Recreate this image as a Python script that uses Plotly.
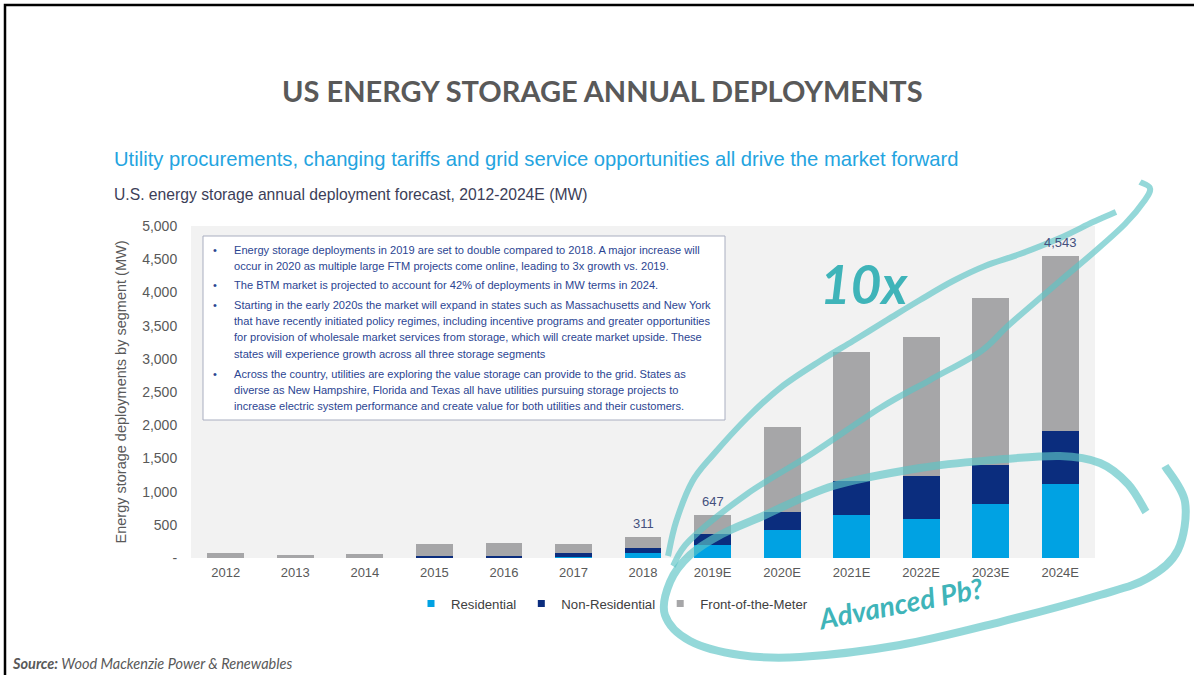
import plotly.graph_objects as go

# ---------------- data ----------------
categories = ["2012", "2013", "2014", "2015", "2016", "2017", "2018",
              "2019E", "2020E", "2021E", "2022E", "2023E", "2024E"]
residential = [3, 2, 3, 5, 5, 10, 75, 200, 420, 650, 590, 815, 1115]
non_residential = [2, 3, 4, 25, 30, 60, 80, 160, 275, 515, 645, 585, 800]
front_of_meter = [65, 35, 48, 185, 190, 140, 156, 287, 1275, 1935, 2100, 2520, 2628]
total_labels = ["", "", "", "", "", "", "311", "647", "", "", "", "", "4,543"]
y_tickvals = [0, 500, 1000, 1500, 2000, 2500, 3000, 3500, 4000, 4500, 5000]
y_ticktext = ["-", "500", "1,000", "1,500", "2,000", "2,500", "3,000",
              "3,500", "4,000", "4,500", "5,000"]
series_names = ["Residential", "Non-Residential", "Front-of-the-Meter"]
series_colors = ["#00A2E3", "#0B2D7E", "#A6A6A8"]

bullets = [
    ["Energy storage deployments in 2019 are set to double compared to 2018. A major increase will",
     "occur in 2020 as multiple large FTM projects come online, leading to 3x growth vs. 2019."],
    ["The BTM market is projected to account for 42% of deployments in MW terms in 2024."],
    ["Starting in the early 2020s the market will expand in states such as Massachusetts and New York",
     "that have recently initiated policy regimes, including incentive programs and greater opportunities",
     "for provision of wholesale market services from storage, which will create market upside. These",
     "states will experience growth across all three storage segments"],
    ["Across the country, utilities are exploring the value storage can provide to the grid. States as",
     "diverse as New Hampshire, Florida and Texas all have utilities pursuing storage projects to",
     "increase electric system performance and create value for both utilities and their customers."],
]

# ---------------- layout helpers (pixel -> paper) ----------------
W, H = 1194, 675
PL, PR, PT, PB = 191, 1095, 226, 558


def px(x):
    return (x - PL) / (PR - PL)


def py(y):
    return (PB - y) / (PB - PT)


def smooth_path(pts):
    p = [(px(x), py(y)) for x, y in pts]
    d = f"M {p[0][0]:.4f},{p[0][1]:.4f}"
    for i in range(len(p) - 1):
        p0 = p[i - 1] if i > 0 else p[i]
        p1, p2 = p[i], p[i + 1]
        p3 = p[i + 2] if i + 2 < len(p) else p2
        c1 = (p1[0] + (p2[0] - p0[0]) / 6, p1[1] + (p2[1] - p0[1]) / 6)
        c2 = (p2[0] - (p3[0] - p1[0]) / 6, p2[1] - (p3[1] - p1[1]) / 6)
        d += f" C {c1[0]:.4f},{c1[1]:.4f} {c2[0]:.4f},{c2[1]:.4f} {p2[0]:.4f},{p2[1]:.4f}"
    return d


FONT = "Liberation Sans, Arial, sans-serif"
HAND = "Lato, Open Sans, sans-serif"
TEAL = "rgba(92,196,198,0.66)"
TEAL_TXT = "#3FB4B9"

fig = go.Figure()
for name, vals, col in zip(series_names, [residential, non_residential, front_of_meter], series_colors):
    fig.add_trace(go.Bar(name=name, x=categories, y=vals, legendgroup=name, showlegend=False,
                         marker=dict(color=col, line=dict(width=0))))
    # legend entry with a small square swatch, as in the original
    fig.add_trace(go.Scatter(name=name, x=[categories[0]], y=[None], mode="markers",
                             legendgroup=name,
                             marker=dict(symbol="square", size=7, color=col), hoverinfo="skip"))

totals = [a + b + c for a, b, c in zip(residential, non_residential, front_of_meter)]

shapes = []
# slide border
shapes.append(dict(type="rect", xref="paper", yref="paper",
                   x0=px(5), x1=px(1210), y0=py(5), y1=py(700),
                   line=dict(color="black", width=2.5), fillcolor="rgba(0,0,0,0)", layer="above"))
# commentary box
shapes.append(dict(type="rect", xref="paper", yref="paper",
                   x0=px(203), x1=px(725), y0=py(236), y1=py(420),
                   line=dict(color="#A9AEC0", width=1), fillcolor="white", layer="above"))

# hand-drawn teal strokes (decoration, slide pixel coordinates)
lower_loop = [(1165, 466), (1185, 502), (1178, 550), (1148, 578), (1100, 595), (1000, 622),
              (900, 645), (800, 657), (740, 655), (690, 641), (665, 615), (670, 582),
              (690, 555), (722, 534), (763, 516), (833, 486), (920, 468), (993, 460),
              (1060, 456), (1100, 463), (1128, 484), (1146, 512)]
upper_a = [(668, 556), (676, 522), (692, 482), (713, 455), (747, 418), (780, 388),
           (820, 361), (853, 341), (887, 320), (920, 300), (953, 281), (985, 266),
           (1020, 254), (1060, 238), (1093, 222), (1116, 212)]
upper_b = [(673, 566), (690, 540), (747, 494), (813, 453), (880, 408), (930, 380),
           (980, 352), (1010, 324), (1060, 281), (1093, 253), (1125, 224), (1145, 200),
           (1150, 188), (1140, 182)]
for pts, w in [(lower_loop, 8), (upper_a, 6), (upper_b, 6)]:
    shapes.append(dict(type="path", xref="paper", yref="paper", path=smooth_path(pts),
                       line=dict(color=TEAL, width=w), layer="above"))

annotations = []
# total labels above selected bars (category index positions from the data)
for i, (tot, lab) in enumerate(zip(totals, total_labels)):
    if lab:
        annotations.append(dict(x=i, y=tot, xref="x", yref="y", text=lab, showarrow=False,
                                xanchor="center", yanchor="bottom", yshift=4,
                                font=dict(family=FONT, size=13, color="#44507E")))

annotations.append(dict(xref="paper", yref="paper", x=px(602), y=py(90),
                        text="<b>US ENERGY STORAGE ANNUAL DEPLOYMENTS</b>", showarrow=False,
                        xanchor="center", yanchor="middle",
                        font=dict(family=HAND, size=29, color="#595959")))
annotations.append(dict(xref="paper", yref="paper", x=px(112), y=py(159),
                        text="Utility procurements, changing tariffs and grid service opportunities all drive the market forward",
                        showarrow=False, xanchor="left", yanchor="middle",
                        font=dict(family=FONT, size=20.2, color="#24A4DF")))
annotations.append(dict(xref="paper", yref="paper", x=px(112), y=py(195),
                        text="U.S. energy storage annual deployment forecast, 2012-2024E (MW)",
                        showarrow=False, xanchor="left", yanchor="middle",
                        font=dict(family=FONT, size=15.7, color="#3C3E58")))
annotations.append(dict(xref="paper", yref="paper", x=px(10), y=py(663),
                        text="<b><i>Source:</i></b><i> Wood Mackenzie Power &amp; Renewables</i>",
                        showarrow=False, xanchor="left", yanchor="middle",
                        font=dict(family=HAND, size=14.5, color="#595959")))

# commentary text lines
line_ys = [[250, 266], [285], [305, 321, 337, 354], [374, 390, 406]]
for blines, ys in zip(bullets, line_ys):
    annotations.append(dict(xref="paper", yref="paper", x=px(215), y=py(ys[0]), text="•",
                            showarrow=False, xanchor="center", yanchor="middle",
                            font=dict(family=FONT, size=11, color="#2B4592")))
    for t, yy in zip(blines, ys):
        annotations.append(dict(xref="paper", yref="paper", x=px(232), y=py(yy), text=t,
                                showarrow=False, xanchor="left", yanchor="middle",
                                font=dict(family=FONT, size=11.1, color="#2B4592")))

# hand-written notes
annotations.append(dict(xref="paper", yref="paper", x=px(864), y=py(283),
                        text="<b><i>10x</i></b>", showarrow=False, xanchor="center", yanchor="middle",
                        font=dict(family=HAND, size=53, color=TEAL_TXT)))
annotations.append(dict(xref="paper", yref="paper", x=px(900), y=py(603),
                        text="<b><i>Advanced Pb?</i></b>", showarrow=False, xanchor="center",
                        yanchor="middle", textangle=-11,
                        font=dict(family=HAND, size=28, color=TEAL_TXT)))

fig.update_layout(
    width=W, height=H,
    barmode="stack", bargap=0.47,
    paper_bgcolor="white", plot_bgcolor="#F2F2F2",
    margin=dict(l=PL, r=W - PR, t=PT, b=H - PB, pad=0),
    font=dict(family=FONT, color="#595959"),
    showlegend=True,
    legend=dict(orientation="h", x=px(612), y=py(604), xanchor="center", yanchor="middle",
                font=dict(family=FONT, size=13.2, color="#404040"),
                bgcolor="rgba(0,0,0,0)", traceorder="normal"),
    xaxis=dict(type="category", categoryorder="array", categoryarray=categories,
               range=[-0.5, len(categories) - 0.5],
               showgrid=False, zeroline=False, showline=False, ticks="outside", ticklen=2,
               tickcolor="rgba(0,0,0,0)",
               tickfont=dict(family=FONT, size=13, color="#595959")),
    yaxis=dict(range=[0, 5000], tickvals=y_tickvals, ticktext=y_ticktext,
               showgrid=False, zeroline=False, showline=False, ticks="outside",
               ticklen=10, tickcolor="rgba(0,0,0,0)",
               tickfont=dict(family=FONT, size=14, color="#595959"),
               title=dict(text="Energy storage deployments by segment (MW)", standoff=12,
                          font=dict(family=FONT, size=14.5, color="#595959"))),
    shapes=shapes, annotations=annotations,
)

fig.write_html("out.html", post_script="document.body.style.margin='0';",
               config={"displayModeBar": False})
